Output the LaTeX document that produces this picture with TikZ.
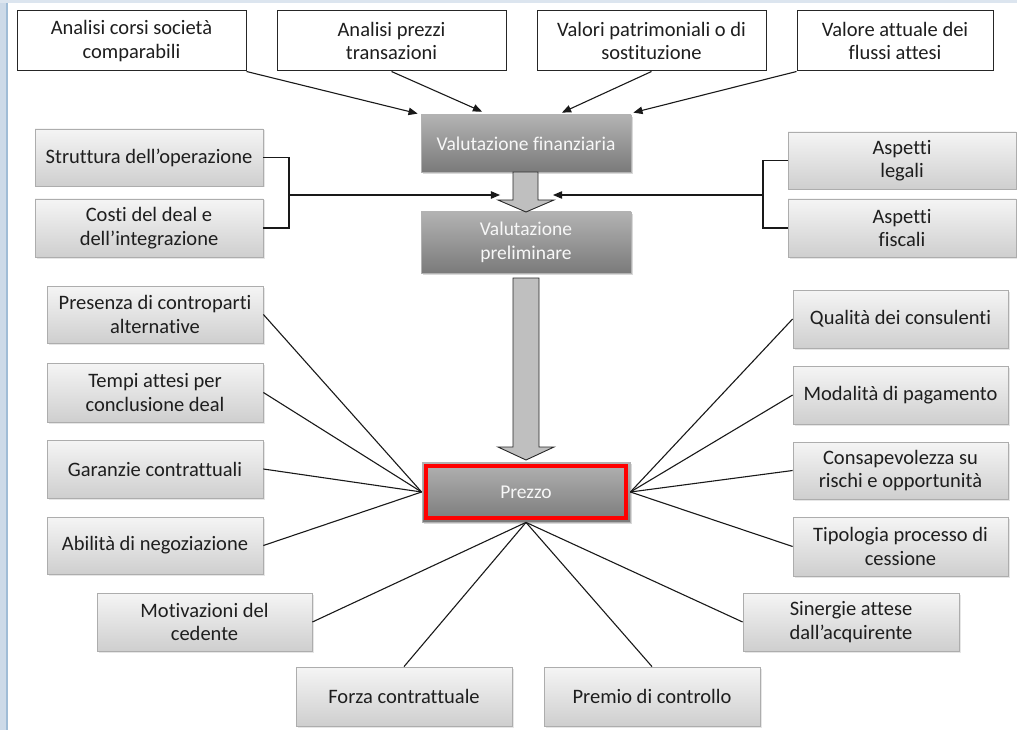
\documentclass[tikz,border=0pt]{standalone}
\usepackage{fontspec}
\setmainfont{Carlito}[Ligatures=NoCommon]
\usetikzlibrary{arrows}
\usetikzlibrary{shadows}
\usetikzlibrary{calc}
\definecolor{frameblue}{RGB}{205,218,232}
\definecolor{frameline}{RGB}{160,188,214}
\definecolor{txtgrey}{RGB}{30,30,30}
\tikzstyle{base} = [rectangle, align=center, inner sep=2pt,
font=\fontsize{20.5}{23.5}\selectfont, text=txtgrey]
\tikzstyle{topbox} = [base, draw=black!85, line width=1pt, fill=white]
\tikzstyle{greybox} = [base, draw=black!32, line width=0.8pt,
top color=black!4, bottom color=black!19,
drop shadow={opacity=0.2, shadow xshift=1.5pt, shadow yshift=-1.5pt}]
\tikzstyle{darkbox} = [base, draw=black!30, line width=0.8pt,
top color=black!30, bottom color=black!52, text=black!3,
font=\fontsize{19.5}{23.5}\selectfont,
drop shadow={opacity=0.3, shadow xshift=2pt, shadow yshift=-2pt}]
\tikzstyle{blockarrow} = [draw=black!85, fill=black!25, line width=0.9pt]
\tikzstyle{link} = [draw=black!90, line width=1.1pt]
\newcommand{\connect}[3][]{ %
  % Join all nodes #2 to node #3.
  \foreach \x in {#2} { %
    \path (\x) edge [link, #1] (#3) ;%
  } ;
}

\begin{document}
\begin{tikzpicture}[x=1pt, y=-1pt, >={triangle 45}]
  \useasboundingbox (0,0) rectangle (1017,730);
  \fill[frameblue] (0,0) rectangle (6,730);
  \fill[frameline] (6,0) rectangle (8,730);
  \fill[frameblue!70] (0,0) rectangle (1017,3);

  % metodi di valutazione
  \node[topbox, minimum width=229, minimum height=60] (corsi) at (131.5,41) {Analisi corsi società\\comparabili};
  \node[topbox, minimum width=229, minimum height=60] (transaz) at (391.5,41) {Analisi prezzi\\transazioni};
  \node[topbox, minimum width=229, minimum height=60] (patrim) at (651.5,41) {Valori patrimoniali o di\\sostituzione};
  \node[topbox, minimum width=196, minimum height=60] (flussi) at (895,41) {Valore attuale dei\\flussi attesi};

  \node[darkbox, minimum width=210, minimum height=57] (vfin) at (526,143.5) {Valutazione finanziaria};
  \node[darkbox, minimum width=210, minimum height=61] (vpre) at (526,242.5) {Valutazione\\preliminare};

  \node[greybox, minimum width=228, minimum height=57] (strutt) at (149,157.5) {Struttura dell’operazione};
  \node[greybox, minimum width=228, minimum height=58] (costi) at (149,228) {Costi del deal e\\dell’integrazione};
  \node[greybox, minimum width=228, minimum height=57] (legali) at (902,160.5) {Aspetti\\legali};
  \node[greybox, minimum width=228, minimum height=58] (fiscali) at (902,228) {Aspetti\\fiscali};

  % prezzo e fattori
  \node[darkbox, minimum width=208, minimum height=60] (prezzo) at (526,492) {Prezzo};
  \draw[red, line width=3.5pt] ($(prezzo.north west)+(4.5,4.5)$) rectangle ($(prezzo.south east)+(-4.5,-4.5)$);

  \node[greybox, minimum width=216, minimum height=57] (presenza) at (155,314.5) {Presenza di controparti\\alternative};
  \node[greybox, minimum width=216, minimum height=59] (tempi) at (155,392.5) {Tempi attesi per\\conclusione deal};
  \node[greybox, minimum width=216, minimum height=58] (garanzie) at (155,469) {Garanzie contrattuali};
  \node[greybox, minimum width=216, minimum height=57] (abilita) at (155,545.5) {Abilità di negoziazione};

  \node[greybox, minimum width=215, minimum height=58] (qualita) at (900.5,319) {Qualità dei consulenti};
  \node[greybox, minimum width=215, minimum height=58] (modalita) at (900.5,395) {Modalità di pagamento};
  \node[greybox, minimum width=215, minimum height=57] (consap) at (900.5,470.5) {Consapevolezza su\\rischi e opportunità};
  \node[greybox, minimum width=215, minimum height=59] (tipologia) at (900.5,546.5) {Tipologia processo di\\cessione};

  \node[greybox, minimum width=215, minimum height=58] (motiv) at (204.5,622) {Motivazioni del\\cedente};
  \node[greybox, minimum width=216, minimum height=59] (forza) at (404,696.5) {Forza contrattuale};
  \node[greybox, minimum width=216, minimum height=59] (premio) at (652,696.5) {Premio di controllo};
  \node[greybox, minimum width=216, minimum height=58] (sinergie) at (851,622) {Sinergie attese\\dall’acquirente};

  % frecce verso la valutazione finanziaria
  \draw[link, ->] (corsi.south east) -- ($(vfin.north west)+(-3,-1)$);
  \draw[link, ->] (transaz.south) -- ($(vfin.north)+(-44,-3)$);
  \draw[link, ->] (patrim.south) -- ($(vfin.north)+(36,-2)$);
  \draw[link, ->] (flussi.south west) -- ($(vfin.north east)+(2,-2)$);

  % parentesi laterali
  \coordinate (lj) at (289,195);
  \coordinate (ltip) at (500,195);
  \coordinate (rj) at (763,195);
  \coordinate (rtip) at (553,195);
  \draw[link] (strutt.east) -| (lj) |- (costi.east);
  \draw[link, ->] (lj) -- (ltip);
  \draw[link] (legali.west) -| (rj) |- (fiscali.west);
  \draw[link, ->] (rj) -- (rtip);

  % frecce a blocco
  \draw[blockarrow] (513,172) -- (538,172) -- (538,200) -- (554,200) -- (526,212) -- (498,200) -- (513,200) -- cycle;
  \draw[blockarrow] (513,278) -- (539,278) -- (539,447) -- (554,447) -- (526,460) -- (498,447) -- (513,447) -- cycle;

  \connect{presenza.east,tempi.east,garanzie.east,abilita.east}{prezzo.west};
  \connect{qualita.west,modalita.west,consap.west,tipologia.west}{prezzo.east};
  \connect{motiv.east,forza.north,premio.north,sinergie.west}{prezzo.south};
\end{tikzpicture}
\end{document}
